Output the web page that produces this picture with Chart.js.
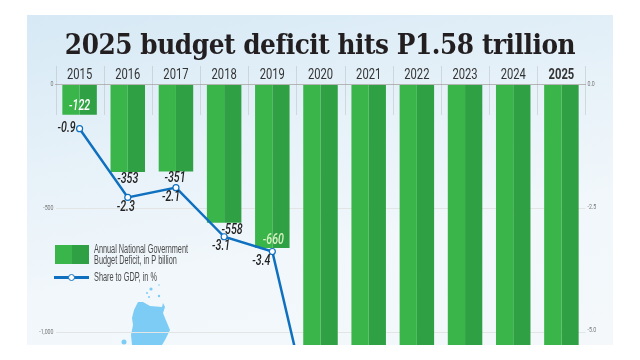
<!DOCTYPE html>
<html>
<head>
<meta charset="utf-8">
<title>2025 budget deficit</title>
<script src="https://cdn.jsdelivr.net/npm/chart.js@4"></script>
<style>
html, body { margin: 0; padding: 0; background: #fff; }
#wrap { position: relative; width: 640px; height: 360px; overflow: hidden; }
#panel { position: absolute; left: 27px; top: 15px; width: 586px; height: 330px;
  background: linear-gradient(170deg, #d6e9f5 0%, #e4f0f8 30%, #f1f7fb 65%, #f4f8fb 100%); }
#title { position: absolute; left: 0; width: 640px; top: 29px; text-align: center; white-space: nowrap;
  font: bold 27px "DejaVu Serif", serif; color: #231f20; letter-spacing: -0.5px; transform: scaleX(0.92); }
#map { position: absolute; left: 0; top: 0; }
canvas { position: absolute; left: 0; top: 0; }
.lg { position: absolute; font: 12px/11px "Liberation Sans", sans-serif; color: #4a4a4a;
  transform: scaleX(0.61); transform-origin: left top; white-space: nowrap; }
#sw { position: absolute; left: 55px; top: 245px; width: 34px; height: 19px;
  background: linear-gradient(90deg, #39b54a 50%, #2fa044 50%); }
#ln { position: absolute; left: 54px; top: 276px; width: 35px; height: 3px; background: #0f70bf; }
#dot { position: absolute; left: 68px; top: 274px; width: 5px; height: 5px; border: 1px solid #0f70bf; border-radius: 50%; background: #fff; }
</style>
</head>
<body>
<div id="wrap">
  <div id="panel"></div>
  <svg id="map" width="640" height="360">
    <path d="M134 310 L138 302 L143 302 L150 306 L162 307 L163 303 L165 307 L163 313 L165 318 L170 330 L165 340 L162 345 L132 345 L131 335 L133 325 L132 318 Z" fill="#7cccf5"/>
    <circle cx="124" cy="342" r="2.5" fill="#7cccf5"/>
    <circle cx="151" cy="289" r="1.6" fill="#7cccf5"/><circle cx="147" cy="293" r="1" fill="#7cccf5"/>
    <circle cx="149" cy="297" r="1" fill="#7cccf5"/><circle cx="159" cy="296" r="1.2" fill="#7cccf5"/>
    <circle cx="159" cy="285" r="0.8" fill="#7cccf5"/>
  </svg>
  <canvas id="chart" width="640" height="360"></canvas>
  <div id="title">2025 budget deficit hits P1.58 trillion</div>
  <div id="sw"></div>
  <div class="lg" style="left:94px;top:244px">Annual National Government<br>Budget Deficit, in P billion</div>
  <div id="ln"></div><div id="dot"></div>
  <div class="lg" style="left:94px;top:272px">Share to GDP, in %</div>
</div>
<script>
// data
const years = ['2015', '2016', '2017', '2018', '2019', '2020', '2021', '2022', '2023', '2024', '2025'];
const deficit = [-122, -353, -351, -558, -660, -1371, -1670, -1614, -1512, -1506, -1580];
const gdpShare = [-0.9, -2.3, -2.1, -3.1, -3.4, -7.6, -8.6, -7.3, -6.2, -5.7, -5.6];
const deficitTicks = [0, -500, -1000];
const shareTicks = [0, -2.5, -5];

// label placement, [dx, dy] from the mark
const barLabelOffset = [[0, -8], [0, 8], [-1, 7], [8, 8], [1, -7]];
const barLabelColor = ['#fff', '#222', '#222', '#222', '#d9f2c4'];
const lineLabelOffset = [[-13, 0], [-2, 10], [-5, 10], [-3, 10], [-11, 10]];

// the page's narrow type is not installed, so squeeze the text sideways
function narrowText(ctx, text, x, y, font, color, align, squeeze) {
  ctx.save();
  ctx.translate(x, y);
  ctx.scale(squeeze, 1);
  ctx.font = font;
  ctx.fillStyle = color;
  ctx.textAlign = align;
  ctx.textBaseline = 'middle';
  ctx.fillText(text, 0, 0);
  ctx.restore();
}

const gapLines = {
  id: 'gapLines',
  beforeDatasetsDraw(chart) {
    const { ctx, scales: { x } } = chart;
    ctx.save();
    ctx.strokeStyle = 'rgba(150,150,150,0.28)';
    ctx.lineWidth = 1;
    const step = x.getPixelForValue(1) - x.getPixelForValue(0);
    for (let i = 0; i <= years.length; i++) {
      const px = Math.round(x.getPixelForValue(0) - step / 2 + i * step) + 0.5;
      ctx.beginPath();
      ctx.moveTo(px, 66);
      ctx.lineTo(px, 115);
      ctx.stroke();
    }
    ctx.restore();
  }
};

const axisLabels = {
  id: 'axisLabels',
  afterDraw(chart) {
    const { ctx, chartArea, scales: { x, y, y1 } } = chart;
    years.forEach((year, i) => {
      const font = (year === '2025' ? 'bold ' : '') + '14px Roboto, sans-serif';
      narrowText(ctx, year, x.getPixelForValue(i), 75, font, '#333', 'center', 0.8);
    });
    const small = '7.5px Roboto, sans-serif';
    deficitTicks.forEach(v => {
      const label = v === -1000 ? '-1,000' : String(v);
      narrowText(ctx, label, chartArea.left - 2, y.getPixelForValue(v), small, '#777', 'right', 0.7);
    });
    shareTicks.forEach(v => {
      narrowText(ctx, v.toFixed(1), chartArea.right + 2, y1.getPixelForValue(v), small, '#777', 'left', 0.7);
    });
  }
};

const valueLabels = {
  id: 'valueLabels',
  afterDatasetsDraw(chart) {
    const { ctx, scales: { x, y, y1 } } = chart;
    const font = 'italic 500 14px Roboto, sans-serif';
    barLabelOffset.forEach((off, i) => {
      narrowText(ctx, String(deficit[i]), x.getPixelForValue(i) + off[0], y.getPixelForValue(deficit[i]) + off[1],
        font, barLabelColor[i], 'center', 0.76);
    });
    lineLabelOffset.forEach((off, i) => {
      narrowText(ctx, String(gdpShare[i]), x.getPixelForValue(i) + off[0], y1.getPixelForValue(gdpShare[i]) + off[1],
        font, '#222', 'center', 0.76);
    });
  }
};

new Chart(document.getElementById('chart'), {
  data: {
    labels: years,
    datasets: [
      { type: 'line', data: gdpShare, yAxisID: 'y1', order: 0, borderColor: '#0f70bf', borderWidth: 2.5,
        tension: 0, pointRadius: 3, pointBorderWidth: 1.2, pointBackgroundColor: '#fff', pointBorderColor: '#0f70bf' },
      { type: 'bar', data: deficit, yAxisID: 'y', order: 1, backgroundColor: '#39b54a' },
      { type: 'bar', data: deficit, yAxisID: 'y', order: 1, backgroundColor: '#2fa044' }
    ]
  },
  options: {
    responsive: false,
    animation: false,
    events: [],
    categoryPercentage: 0.716,
    barPercentage: 1,
    layout: { padding: { left: 25, right: 24.5, top: 60, bottom: 15 } },
    plugins: { legend: { display: false }, title: { display: false }, tooltip: { enabled: false } },
    scales: {
      x: {
        position: 'top',
        afterFit(s) { s.height = 24.5; },
        grid: { display: false, drawTicks: false },
        border: { display: true, color: '#b5b5b5', width: 1 },
        ticks: { display: false }
      },
      y: {
        min: -1052, max: 0,
        afterFit(s) { s.width = 30.5; },
        afterBuildTicks(s) { s.ticks = deficitTicks.map(v => ({ value: v })); },
        border: { display: false },
        grid: { color: (c) => c.tick.value === 0 ? 'rgba(0,0,0,0)' : '#e2e5e4', drawTicks: false },
        ticks: { display: false }
      },
      y1: {
        position: 'right',
        min: -5.304, max: 0,
        afterFit(s) { s.width = 30; },
        afterBuildTicks(s) { s.ticks = shareTicks.map(v => ({ value: v })); },
        border: { display: false },
        grid: { display: false, drawTicks: false },
        ticks: { display: false }
      }
    }
  },
  plugins: [gapLines, valueLabels, axisLabels]
});
</script>
</body>
</html>
